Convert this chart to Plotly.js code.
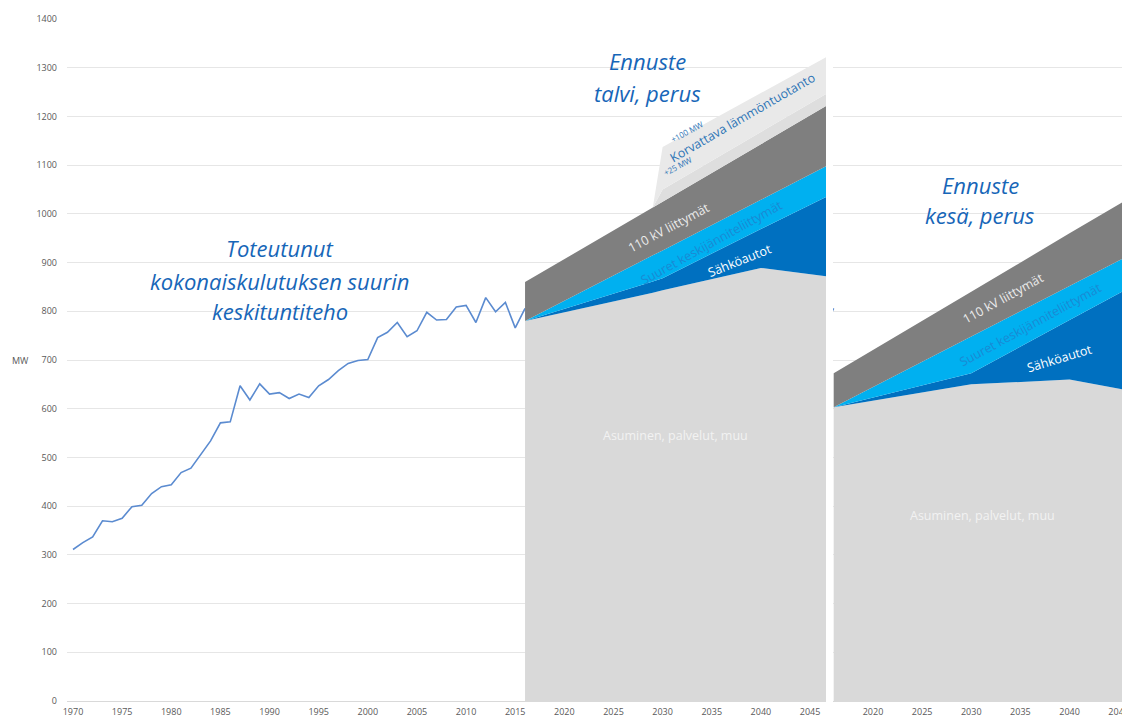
<!DOCTYPE html>
<html>
<head>
<meta charset="utf-8">
<script src="https://cdn.plot.ly/plotly-3.0.1.min.js"></script>
<style>html,body{margin:0;padding:0;background:#fff;}#chart{width:1122px;height:720px;}</style>
</head>
<body>
<div id="chart"></div>
<script>
// ---- Historical data: peak hourly consumption (MW)
const histYears = [1970,1971,1972,1973,1974,1975,1976,1977,1978,1979,
  1980,1981,1982,1983,1984,1985,1986,1987,1988,1989,
  1990,1991,1992,1993,1994,1995,1996,1997,1998,1999,
  2000,2001,2002,2003,2004,2005,2006,2007,2008,2009,
  2010,2011,2012,2013,2014,2015,2016];
const histMW = [311,325,337,370,368,375,399,402,426,440,
  444,469,478,507,534,571,573,647,618,651,
  630,633,621,630,623,647,660,678,693,699,
  701,746,757,777,748,760,798,782,783,809,
  812,777,828,799,818,766,806];

// ---- Winter forecast (stack increments, MW)
const winterYears   = [2016, 2029, 2030, 2040, 2050];
const wAsuminen     = [780, 838, 843, 889, 863];
const wSahkoautot   = [0, 23, 25, 80, 205];
const wSuuret       = [0, 54, 57, 60, 65];
const w110kV        = [80, 98, 100, 114, 128];
const wKorvattava25 = [0, 0, 25, 25, 25];
const wKorvattava100= [0, 0, 87, 80, 73];

// ---- Summer forecast (stack increments, MW)
const summerYears = [2016, 2030, 2040, 2050];
const sAsuminen   = [603, 650, 660, 622];
const sSahkoautot = [0, 23, 122, 269];
const sSuuret     = [0, 75, 70, 65];
const s110kV      = [70, 92, 108, 123];

const xTicks = [1970,1975,1980,1985,1990,1995,2000,2005,2010,2015,2020,2025,2030,2035,2040,2045];
const yTicks = [0,100,200,300,400,500,600,700,800,900,1000,1100,1200,1300,1400];

const C = {
  base: '#d9d9d9', ev: '#0070c0', mv: '#00b0f0', hv: '#7f7f7f',
  k25: '#dedede', k100: '#e9e9e9', line: '#5b8bd0', title: '#1766b8'
};

function area(x, y, color, xa, grp, name) {
  return {x: x, y: y, xaxis: xa, yaxis: 'y', type: 'scatter', mode: 'none',
    stackgroup: grp, fill: 'tonexty', fillcolor: color, name: name,
    hoverinfo: 'skip', showlegend: false};
}

const traces = [
  {x: histYears, y: histMW, xaxis: 'x', yaxis: 'y', type: 'scatter', mode: 'lines',
   line: {color: C.line, width: 1.6}, showlegend: false, hoverinfo: 'skip'},
  {x: histYears, y: histMW, xaxis: 'x2', yaxis: 'y', type: 'scatter', mode: 'lines',
   line: {color: C.line, width: 1.6}, showlegend: false, hoverinfo: 'skip'},
  area(winterYears, wAsuminen, C.base, 'x', 'w', 'Asuminen, palvelut, muu'),
  area(winterYears, wSahkoautot, C.ev, 'x', 'w', 'Sähköautot'),
  area(winterYears, wSuuret, C.mv, 'x', 'w', 'Suuret keskijänniteliittymät'),
  area(winterYears, w110kV, C.hv, 'x', 'w', '110 kV liittymät'),
  area(winterYears, wKorvattava25, C.k25, 'x', 'w', 'Korvattava +25 MW'),
  area(winterYears, wKorvattava100, C.k100, 'x', 'w', 'Korvattava +100 MW'),
  area(summerYears, sAsuminen, C.base, 'x2', 's', 'Asuminen, palvelut, muu'),
  area(summerYears, sSahkoautot, C.ev, 'x2', 's', 'Sähköautot'),
  area(summerYears, sSuuret, C.mv, 'x2', 's', 'Suuret keskijänniteliittymät'),
  area(summerYears, s110kV, C.hv, 'x2', 's', '110 kV liittymät')
];

const tickFont = {family: 'Open Sans, sans-serif', size: 9, color: '#595959'};
const bigFont = {family: 'Open Sans, sans-serif', size: 22, color: C.title};

function ann(text, xref, x, y, opts) {
  return Object.assign({text: text, xref: xref, yref: 'y', x: x, y: y, showarrow: false,
    xanchor: 'center', yanchor: 'middle'}, opts || {});
}
function it(t) { return '<i>' + t + '</i>'; }
const lblFont = (c, s) => ({family: 'Open Sans, sans-serif', size: s, color: c});

const annotations = [
  ann(it('Toteutunut'), 'x', 1991.06, 930, {font: bigFont}),
  ann(it('kokonaiskulutuksen suurin'), 'x', 1991.06, 862, {font: bigFont}),
  ann(it('keskituntiteho'), 'x', 1991.06, 801, {font: bigFont}),
  ann(it('Ennuste'), 'x', 2028.41, 1314, {font: bigFont}),
  ann(it('talvi, perus'), 'x', 2028.41, 1248, {font: bigFont}),
  ann(it('Ennuste'), 'x2', 2030.89, 1059, {font: bigFont}),
  ann(it('kesä, perus'), 'x2', 2030.89, 998, {font: bigFont}),
  ann('110 kV liittymät', 'x', 2030.65, 971, {font: lblFont('#ececec', 12.5), textangle: -28}),
  ann('Suuret keskijänniteliittymät', 'x', 2034.99, 941, {font: lblFont('#1a8ad4', 12.5), textangle: -29}),
  ann('Sähköautot', 'x', 2037.87, 905, {font: lblFont('#ffffff', 12.5), textangle: -22}),
  ann('Korvattava lämmöntuotanto', 'x', 2038.13, 1198, {font: lblFont('#2e75b6', 12.5), textangle: -30}),
  ann('+100 MW', 'x', 2032.44, 1170, {font: lblFont('#2e75b6', 8), textangle: -28}),
  ann('+25 MW', 'x', 2031.56, 1100, {font: lblFont('#2e75b6', 8), textangle: -28}),
  ann('Asuminen, palvelut, muu', 'x', 2031.26, 544, {font: lblFont('#f2f2f2', 12.5)}),
  ann('Asuminen, palvelut, muu', 'x2', 2031.19, 380, {font: lblFont('#f2f2f2', 12.5)}),
  ann('110 kV liittymät', 'x2', 2033.2, 827, {font: lblFont('#ececec', 12.5), textangle: -29}),
  ann('Suuret keskijänniteliittymät', 'x2', 2036.08, 772, {font: lblFont('#1a8ad4', 12.5), textangle: -28.6}),
  ann('Sähköautot', 'x2', 2038.96, 703, {font: lblFont('#ffffff', 12.5), textangle: -17}),
  {text: 'MW', xref: 'paper', yref: 'y', x: -0.0445, y: 700, showarrow: false,
   xanchor: 'center', yanchor: 'middle', font: tickFont}
];

const layout = {
  width: 1122, height: 720,
  margin: {l: 67, r: 0, t: 19, b: 19, pad: 0},
  paper_bgcolor: '#ffffff', plot_bgcolor: '#ffffff',
  showlegend: false,
  xaxis: {domain: [0, 0.71943], range: [1969.389, 2046.625], tickvals: xTicks,
    showgrid: false, zeroline: false, showline: false, ticks: '',
    tickfont: tickFont, ticklabelstandoff: 4, ticklabeloverflow: 'allow', fixedrange: true},
  xaxis2: {domain: [0.72607, 1], range: [2015.93, 2045.339], tickvals: xTicks, anchor: 'y',
    showgrid: false, zeroline: false, showline: false, ticks: '',
    tickfont: tickFont, ticklabelstandoff: 4, ticklabeloverflow: 'allow', fixedrange: true},
  yaxis: {range: [0, 1400], tickvals: yTicks, showgrid: true, gridcolor: '#e6e6e6', gridwidth: 1,
    zeroline: true, zerolinecolor: '#d9d9d9', zerolinewidth: 1, showline: false, ticks: '',
    tickfont: tickFont, ticklabelstandoff: 9, fixedrange: true},
  annotations: annotations
};

Plotly.newPlot('chart', traces, layout, {staticPlot: true, displayModeBar: false});
</script>
</body>
</html>
